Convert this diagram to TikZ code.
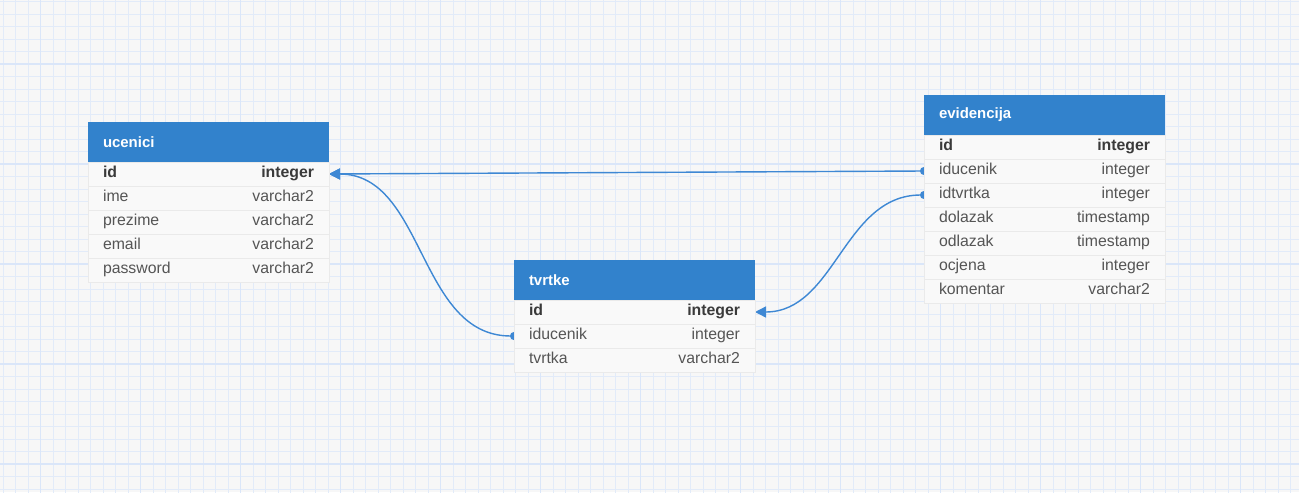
\documentclass[tikz,border=0pt]{standalone}
\usepackage{fontspec}
\setmainfont{Liberation Sans}
\usetikzlibrary{positioning, arrows.meta, backgrounds}
\definecolor{headerBlue}{RGB}{50,130,204}
\definecolor{linkBlue}{RGB}{62,136,212}
\definecolor{rowGray}{RGB}{249,249,249}
\definecolor{rowLine}{RGB}{234,234,234}
\definecolor{textGray}{RGB}{85,85,85}
\definecolor{textDark}{RGB}{58,58,58}
\definecolor{paperGray}{RGB}{247,247,247}
\definecolor{gridMinor}{RGB}{226,235,249}
\definecolor{gridMajor}{RGB}{218,230,249}
\newcommand{\fld}[2]{\hbox to 4.22cm{\strut#1\hfill#2}}
\tikzset{
  tblhead/.style={rectangle, fill=headerBlue, text=white, font=\fontsize{8.5}{10}\selectfont\bfseries, minimum height=0.8cm, text width=4.22cm, inner xsep=0.3cm, outer sep=0pt, align=left},
  tblrow/.style={rectangle, fill=rowGray, draw=rowLine, line width=0.4pt, text=textGray, font=\fontsize{9}{11}\selectfont, minimum height=0.48cm, inner xsep=0.3cm, inner ysep=0pt, outer sep=0pt},
  tblkey/.style={tblrow, text=textDark, font=\fontsize{9}{11}\selectfont\bfseries},
  fk/.style={linkBlue, line width=0.8pt, shorten <=-0.08cm, {Circle[length=0.16cm]}-{Triangle[length=0.22cm, width=0.22cm]}}
}

\begin{document}
\begin{tikzpicture}
            \useasboundingbox (0,0) rectangle (25.98,-9.84);

            % Tabla ucenici
            \node[tblhead] (uc) at (4.17,-2.84) {ucenici};
            \node[tblkey, below=0pt of uc] (uc-id) {\fld{id}{integer}};
            \node[tblrow, below=0pt of uc-id] (uc-ime) {\fld{ime}{varchar2}};
            \node[tblrow, below=0pt of uc-ime] (uc-prezime) {\fld{prezime}{varchar2}};
            \node[tblrow, below=0pt of uc-prezime] (uc-email) {\fld{email}{varchar2}};
            \node[tblrow, below=0pt of uc-email] (uc-password) {\fld{password}{varchar2}};

            % Tabla tvrtke
            \node[tblhead] (tv) at (12.69,-5.6) {tvrtke};
            \node[tblkey, below=0pt of tv] (tv-id) {\fld{id}{integer}};
            \node[tblrow, below=0pt of tv-id] (tv-iducenik) {\fld{iducenik}{integer}};
            \node[tblrow, below=0pt of tv-iducenik] (tv-tvrtka) {\fld{tvrtka}{varchar2}};

            % Tabla evidencija
            \node[tblhead] (ev) at (20.89,-2.3) {evidencija};
            \node[tblkey, below=0pt of ev] (ev-id) {\fld{id}{integer}};
            \node[tblrow, below=0pt of ev-id] (ev-iducenik) {\fld{iducenik}{integer}};
            \node[tblrow, below=0pt of ev-iducenik] (ev-idtvrtka) {\fld{idtvrtka}{integer}};
            \node[tblrow, below=0pt of ev-idtvrtka] (ev-dolazak) {\fld{dolazak}{timestamp}};
            \node[tblrow, below=0pt of ev-dolazak] (ev-odlazak) {\fld{odlazak}{timestamp}};
            \node[tblrow, below=0pt of ev-odlazak] (ev-ocjena) {\fld{ocjena}{integer}};
            \node[tblrow, below=0pt of ev-ocjena] (ev-komentar) {\fld{komentar}{varchar2}};

            \begin{scope}[on background layer]
                % Fondo con cuadricula
                \fill[paperGray] (0,0) rectangle (25.98,-9.84);
                \begin{scope}
                    \clip (0,0) rectangle (25.98,-9.84);
                    \draw[gridMinor, line width=0.5pt, step=0.25cm, xshift=0.064cm, yshift=-0.03cm] (-0.5,-10.5) grid (26.5,0.5);
                    \draw[gridMajor, line width=0.6pt, step=2cm, xshift=0.814cm, yshift=-1.28cm] (-2,-10) grid (26,2);
                \end{scope}

                % Relaciones entre tablas
                \draw[fk] (ev-iducenik.west) -- (uc-id.east);
                \draw[fk] (tv-iducenik.west) to[out=180, in=0] (uc-id.east);
                \draw[fk] (ev-idtvrtka.west) to[out=180, in=0] (tv-id.east);
            \end{scope}
        \end{tikzpicture}
\end{document}
